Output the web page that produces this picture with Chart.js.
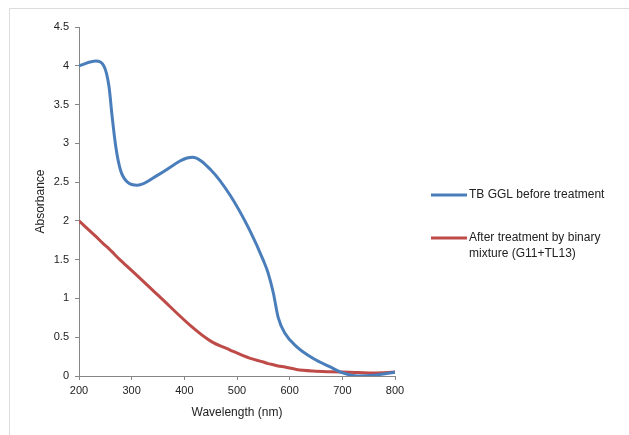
<!DOCTYPE html>
<html>
<head>
<meta charset="utf-8">
<script src="https://cdn.jsdelivr.net/npm/chart.js@4/dist/chart.umd.min.js"></script>
<style>
  html, body { margin: 0; padding: 0; background: #fff; }
  canvas { display: block; }
</style>
</head>
<body>
<canvas id="myChart" width="629" height="435"></canvas>
<script>
const wavelengths = [200, 232, 247, 257, 263, 270, 279, 292, 311, 352, 415, 450, 487, 524, 550, 559, 569, 578, 591, 613, 644, 676, 701, 730, 760, 800];
const beforeTreatment = [4.0, 4.06, 4.0, 3.73, 3.34, 2.95, 2.65, 2.5, 2.46, 2.6, 2.82, 2.66, 2.33, 1.88, 1.49, 1.33, 1.07, 0.76, 0.55, 0.38, 0.23, 0.12, 0.04, 0.0, 0.01, 0.05];
const afterTreatment = [2.0, 1.8, 1.7, 1.64, 1.6, 1.55, 1.49, 1.41, 1.29, 1.03, 0.63, 0.45, 0.335, 0.23, 0.18, 0.16, 0.145, 0.13, 0.115, 0.085, 0.065, 0.055, 0.05, 0.045, 0.04, 0.05];
const seriesLabels = ['TB GGL before treatment', 'After treatment by binary mixture (G11+TL13)'];
const legendLines = [['TB GGL before treatment'], ['After treatment by binary', 'mixture (G11+TL13)']];

const toPoints = (ys) => wavelengths.map((x, i) => ({ x, y: ys[i] }));

// light frame on top and left, like the pasted Excel chart
const framePlugin = {
    id: 'frame',
    beforeDraw(chart) {
        const c = chart.ctx;
        c.save();
        c.strokeStyle = '#dcdcdc';
        c.lineWidth = 1;
        c.beginPath();
        c.moveTo(9.5, 435);
        c.lineTo(9.5, 8.5);
        c.lineTo(629, 8.5);
        c.stroke();
        c.restore();
    }
};

// legend on the right with wrapped text
const sideLegend = {
    id: 'sideLegend',
    afterDraw(chart) {
        const c = chart.ctx;
        const rows = [195, 238];
        c.save();
        c.font = '12px "Liberation Sans", Arial, sans-serif';
        c.fillStyle = '#222';
        c.textBaseline = 'middle';
        chart.data.datasets.forEach((ds, i) => {
            const y = rows[i];
            c.strokeStyle = ds.borderColor;
            c.lineWidth = 3;
            c.beginPath();
            c.moveTo(431, y);
            c.lineTo(467, y);
            c.stroke();
            legendLines[i].forEach((t, j) => c.fillText(t, 469, y + j * 16));
        });
        c.restore();
    }
};

const tickFont = { family: '"Liberation Sans", Arial, sans-serif', size: 11 };
const titleFont = { family: '"Liberation Sans", Arial, sans-serif', size: 12 };

new Chart(document.getElementById('myChart'), {
    type: 'line',
    data: {
        datasets: [
            {
                label: seriesLabels[0],
                data: toPoints(beforeTreatment),
                borderColor: '#4a7ebb',
                borderWidth: 3,
                pointRadius: 0,
                cubicInterpolationMode: 'monotone',
                fill: false,
            },
            {
                label: seriesLabels[1],
                data: toPoints(afterTreatment),
                borderColor: '#be4b48',
                borderWidth: 3,
                pointRadius: 0,
                cubicInterpolationMode: 'monotone',
                fill: false,
            }
        ]
    },
    options: {
        responsive: false,
        animation: false,
        layout: { padding: { left: 10, top: 27, right: 234, bottom: 0 } },
        plugins: {
            legend: { display: false },
            tooltip: { enabled: false },
        },
        scales: {
            x: {
                type: 'linear',
                min: 200,
                max: 800,
                ticks: { stepSize: 100, color: '#222', font: tickFont, padding: 4 },
                grid: { drawOnChartArea: false, tickLength: 4, color: '#868686' },
                border: { color: '#868686' },
                title: { display: true, text: 'Wavelength (nm)', color: '#222', font: titleFont, padding: { top: 0, bottom: 15 } },
                afterFit(scale) { scale.height = 59; },
            },
            y: {
                min: 0,
                max: 4.5,
                ticks: { stepSize: 0.5, color: '#222', font: tickFont, padding: 6, callback: (v) => String(v) },
                grid: { drawOnChartArea: false, tickLength: 4, color: '#868686' },
                border: { color: '#868686' },
                title: { display: true, text: 'Absorbance', color: '#222', font: titleFont, padding: { top: 23, bottom: 0 } },
                afterFit(scale) { scale.width = 69; },
            }
        }
    },
    plugins: [framePlugin, sideLegend]
});
</script>
</body>
</html>
